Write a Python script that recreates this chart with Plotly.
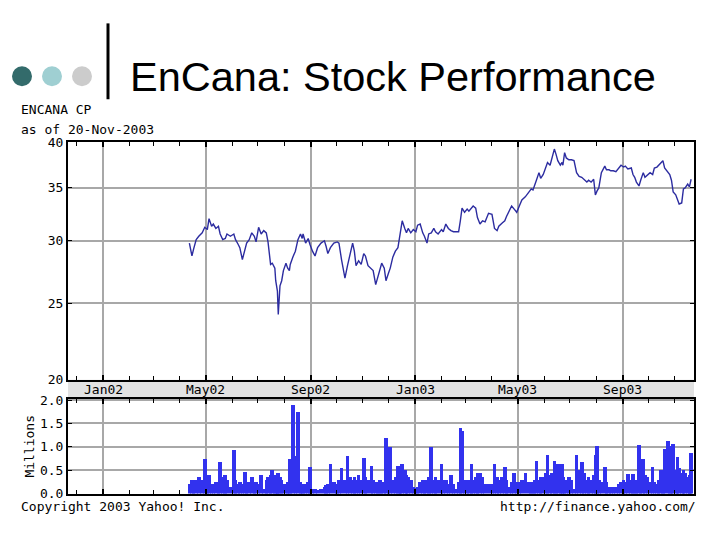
import plotly.graph_objects as go
import math

# ---------------- data ----------------
trade_dates = [
    "2002-04-12", "2002-04-15", "2002-04-17", "2002-04-20", "2002-04-23", "2002-04-27", "2002-04-30",
    "2002-05-03", "2002-05-05", "2002-05-08", "2002-05-10", "2002-05-13", "2002-05-16", "2002-05-18",
    "2002-05-21", "2002-05-24", "2002-05-26", "2002-05-30", "2002-06-03", "2002-06-05", "2002-06-08",
    "2002-06-10", "2002-06-13", "2002-06-16", "2002-06-18", "2002-06-21", "2002-06-24", "2002-06-27",
    "2002-06-29", "2002-07-02", "2002-07-05", "2002-07-08", "2002-07-11", "2002-07-13", "2002-07-16",
    "2002-07-18", "2002-07-21", "2002-07-22", "2002-07-24", "2002-07-25", "2002-07-27", "2002-07-29",
    "2002-07-31", "2002-08-03", "2002-08-05", "2002-08-07", "2002-08-08", "2002-08-11", "2002-08-14",
    "2002-08-17", "2002-08-20", "2002-08-22", "2002-08-23", "2002-08-26", "2002-08-29", "2002-08-31",
    "2002-09-03", "2002-09-06", "2002-09-09", "2002-09-13", "2002-09-17", "2002-09-19", "2002-09-21",
    "2002-09-24", "2002-09-28", "2002-10-02", "2002-10-04", "2002-10-07", "2002-10-11", "2002-10-14",
    "2002-10-17", "2002-10-20", "2002-10-22", "2002-10-24", "2002-10-27", "2002-10-30", "2002-11-02",
    "2002-11-04", "2002-11-07", "2002-11-11", "2002-11-13", "2002-11-16", "2002-11-19", "2002-11-21",
    "2002-11-23", "2002-11-26", "2002-11-28", "2002-12-01", "2002-12-03", "2002-12-06", "2002-12-09",
    "2002-12-12", "2002-12-13", "2002-12-15", "2002-12-17", "2002-12-20", "2002-12-22", "2002-12-24",
    "2002-12-27", "2002-12-30", "2003-01-02", "2003-01-04", "2003-01-07", "2003-01-10", "2003-01-12",
    "2003-01-15", "2003-01-17", "2003-01-20", "2003-01-23", "2003-01-25", "2003-01-28", "2003-02-01",
    "2003-02-03", "2003-02-06", "2003-02-09", "2003-02-12", "2003-02-15", "2003-02-18", "2003-02-21",
    "2003-02-23", "2003-02-25", "2003-02-28", "2003-03-03", "2003-03-05", "2003-03-08", "2003-03-10",
    "2003-03-13", "2003-03-15", "2003-03-18", "2003-03-21", "2003-03-24", "2003-03-28", "2003-04-01",
    "2003-04-04", "2003-04-07", "2003-04-09", "2003-04-13", "2003-04-16", "2003-04-18", "2003-04-21",
    "2003-04-24", "2003-04-27", "2003-04-30", "2003-05-03", "2003-05-06", "2003-05-10", "2003-05-14",
    "2003-05-17", "2003-05-19", "2003-05-21", "2003-05-23", "2003-05-26", "2003-05-28", "2003-05-31",
    "2003-06-03", "2003-06-05", "2003-06-08", "2003-06-10", "2003-06-13", "2003-06-15", "2003-06-17",
    "2003-06-20", "2003-06-22", "2003-06-23", "2003-06-25", "2003-06-27", "2003-06-30", "2003-07-03",
    "2003-07-06", "2003-07-09", "2003-07-12", "2003-07-15", "2003-07-18", "2003-07-21", "2003-07-23",
    "2003-07-26", "2003-07-29", "2003-07-31", "2003-08-02", "2003-08-04", "2003-08-07", "2003-08-11",
    "2003-08-13", "2003-08-16", "2003-08-18", "2003-08-21", "2003-08-24", "2003-08-27", "2003-08-30",
    "2003-09-02", "2003-09-04", "2003-09-07", "2003-09-11", "2003-09-13", "2003-09-15", "2003-09-17",
    "2003-09-20", "2003-09-22", "2003-09-25", "2003-09-27", "2003-09-30", "2003-10-03", "2003-10-06",
    "2003-10-08", "2003-10-11", "2003-10-13", "2003-10-16", "2003-10-18", "2003-10-20", "2003-10-24",
    "2003-10-26", "2003-10-28", "2003-10-30", "2003-11-02", "2003-11-04", "2003-11-06", "2003-11-09",
    "2003-11-11", "2003-11-13", "2003-11-16", "2003-11-18", "2003-11-19", "2003-11-20",
]

close_price = [
    29.8, 28.7, 29.3, 30.1, 30.4, 30.7, 31.2,
    31.0, 32.0, 31.3, 31.5, 31.1, 31.3, 30.6,
    30.1, 30.2, 30.6, 30.4, 30.6, 30.1, 29.7,
    29.4, 28.4, 29.3, 29.8, 30.1, 30.7, 30.4,
    29.9, 31.2, 30.6, 30.9, 30.7, 29.9, 28.0,
    28.1, 27.7, 26.7, 25.9, 24.2, 26.3, 26.7,
    27.5, 28.1, 27.7, 27.5, 28.0, 28.6, 29.1,
    30.1, 30.6, 30.2, 30.6, 29.8, 30.2, 29.7,
    29.1, 28.7, 29.4, 29.8, 30.0, 29.5, 28.9,
    29.4, 29.8, 29.9, 29.8, 28.4, 26.9, 27.9,
    28.9, 29.8, 29.1, 27.9, 28.3, 28.0, 28.9,
    28.7, 27.9, 27.6, 27.5, 26.4, 27.1, 27.7,
    28.1, 27.7, 26.7, 27.3, 27.7, 28.6, 29.1,
    29.4, 29.9, 31.1, 31.8, 31.1, 30.7, 31.1,
    30.7, 31.0, 30.8, 31.4, 31.5, 30.7, 30.4,
    29.8, 30.6, 30.7, 31.1, 30.8, 30.6, 31.0,
    30.8, 31.5, 31.1, 30.9, 30.8, 30.8, 30.8,
    31.8, 33.0, 32.6, 32.9, 32.7, 33.0, 33.2,
    33.0, 32.1, 31.5, 31.8, 31.7, 32.5, 32.4,
    31.1, 30.9, 31.3, 31.6, 31.8, 32.2, 32.7,
    33.2, 32.9, 32.6, 33.2, 33.8, 34.1, 34.5,
    34.9, 34.8, 35.4, 35.8, 36.6, 36.0, 36.4,
    37.1, 37.7, 37.4, 38.2, 39.2, 38.6, 37.9,
    37.4, 37.7, 37.4, 38.8, 38.2, 38.0, 38.0,
    37.9, 36.6, 36.2, 36.1, 35.8, 35.6, 35.8,
    35.6, 35.9, 34.3, 34.7, 35.0, 36.6, 37.3,
    36.9, 36.9, 36.8, 36.8, 36.7, 37.1, 37.4,
    37.2, 37.3, 37.0, 37.1, 36.4, 36.1, 35.6,
    35.2, 35.8, 36.6, 36.1, 36.4, 36.6, 36.4,
    37.1, 37.2, 37.4, 37.7, 37.9, 37.1, 36.6,
    36.4, 35.8, 34.6, 34.3, 33.8, 33.4, 33.5,
    34.9, 35.0, 35.4, 35.1, 35.7, 35.9,
]

volume_millions = [
    0.20, 0.30, 0.25, 0.30, 0.35, 0.30, 0.75,
    0.30, 0.40, 0.20, 0.20, 0.25, 0.20, 0.68,
    0.35, 0.40, 0.30, 0.15, 0.93, 0.30, 0.20,
    0.25, 0.20, 0.46, 0.20, 0.25, 0.35, 0.20,
    0.25, 0.20, 0.40, 0.10, 0.30, 0.35, 0.40,
    0.50, 0.35, 0.40, 0.45, 0.45, 0.35, 0.30,
    0.20, 0.20, 0.25, 0.40, 0.75, 1.90, 0.80,
    1.76, 0.25, 0.20, 0.20, 0.20, 0.25, 0.57,
    0.10, 0.10, 0.08, 0.10, 0.15, 0.18, 0.20,
    0.64, 0.25, 0.20, 0.30, 0.55, 0.30, 0.82,
    0.35, 0.30, 0.35, 0.30, 0.40, 0.30, 0.76,
    0.35, 0.30, 0.60, 0.30, 0.25, 0.20, 0.30,
    0.25, 0.25, 1.19, 0.20, 1.00, 0.30, 0.35,
    0.59, 0.40, 0.45, 0.64, 0.50, 0.40, 0.35,
    0.30, 0.15, 0.12, 0.15, 0.25, 0.30, 0.25,
    0.30, 0.35, 1.00, 0.30, 0.35, 0.30, 0.64,
    0.30, 0.30, 0.20, 0.40, 0.20, 0.10, 0.25,
    1.40, 1.35, 0.30, 0.30, 0.30, 0.64, 0.30,
    0.35, 0.45, 0.45, 0.35, 0.20, 0.20, 0.20,
    0.63, 0.35, 0.30, 0.35, 0.57, 0.30, 0.15,
    0.25, 0.45, 0.25, 0.25, 0.30, 0.45, 0.25,
    0.25, 0.20, 0.30, 0.71, 0.30, 0.35, 0.35,
    0.45, 0.83, 0.40, 0.45, 0.70, 0.40, 0.64,
    0.45, 0.64, 0.35, 0.30, 0.30, 0.35, 0.30,
    0.10, 0.83, 0.50, 0.68, 0.45, 0.30, 0.35,
    0.30, 0.40, 0.83, 1.03, 0.30, 0.25, 0.57,
    0.25, 0.15, 0.15, 0.15, 0.15, 0.20, 0.25,
    0.30, 0.25, 0.43, 0.30, 0.43, 0.25, 0.30,
    1.05, 0.40, 0.75, 0.40, 0.35, 0.25, 0.57,
    0.25, 0.20, 0.30, 0.50, 0.35, 0.96, 1.14,
    1.03, 0.78, 1.07, 0.50, 0.78, 0.55, 0.45,
    0.50, 0.45, 0.35, 0.40, 0.35, 0.88,
]

price_ticks = [20, 25, 30, 35, 40]
price_tick_labels = ["20", "25", "30", "35", "40"]
volume_ticks = [0.0, 0.5, 1.0, 1.5, 2.0]
volume_tick_labels = ["0.0", "0.5", "1.0", "1.5", "2.0"]
month_ticks = ["2002-01-01", "2002-05-01", "2002-09-01", "2003-01-01", "2003-05-01", "2003-09-01"]
month_tick_labels = ["Jan02", "May02", "Sep02", "Jan03", "May03", "Sep03"]
date_range = ["2001-11-21", "2003-11-23 09:00"]

# ---------------- layout helpers ----------------
W, H = 720, 540
X_SHIFT = 8          # horizontal offset of the page
Y_SCALE, Y_SHIFT = 0.974, 13.6   # observed vertical mapping of the page


def px(x):
    return (x - X_SHIFT) / W


def py(y):
    return 1 - ((y - Y_SHIFT) / Y_SCALE) / H


MONO = "DejaVu Sans Mono"
GRID = "#a8a8a8"

fig = go.Figure()
fig.add_trace(go.Scatter(
    x=trade_dates, y=close_price, mode="lines",
    line=dict(color="#2c2ca0", width=1.4),
    xaxis="x", yaxis="y", showlegend=False, hoverinfo="x+y",
))
fig.add_trace(go.Bar(
    x=trade_dates, y=volume_millions,
    marker=dict(color="#3232ee", line=dict(width=0)),
    width=4.2 * 86400000,
    xaxis="x2", yaxis="y2", showlegend=False,
))

x_common = dict(
    type="date", range=date_range, tickvals=month_ticks,
    showgrid=True, gridcolor=GRID, gridwidth=2,
    showline=True, linecolor="black", linewidth=2, mirror="allticks",
    ticks="inside", ticklen=5, tickcolor="black", tickwidth=2,
    minor=dict(dtick="M1", ticks="inside", ticklen=4, tickcolor="black", tickwidth=1, showgrid=False),
    showticklabels=False, zeroline=False,
)
y_common = dict(
    showgrid=True, gridcolor=GRID, gridwidth=2,
    showline=True, linecolor="black", linewidth=2, mirror="allticks",
    ticks="inside", ticklen=4, tickcolor="black",
    tickfont=dict(family=MONO, size=13, color="black"),
    ticklabelstandoff=0, zeroline=False,
)

fig.update_layout(
    width=W, height=H,
    margin=dict(l=0, r=0, t=0, b=0),
    paper_bgcolor="white", plot_bgcolor="white",
    bargap=0,
    xaxis=dict(domain=[px(68), px(694)], anchor="y", **x_common),
    xaxis2=dict(domain=[px(68), px(694)], anchor="y2", matches="x", side="top", **x_common),
    yaxis=dict(domain=[py(379), py(141)], anchor="x", type="log",
               range=[math.log10(20), math.log10(40)],
               tickvals=price_ticks, ticktext=price_tick_labels, **y_common),
    yaxis2=dict(domain=[py(493), py(398)], anchor="x2", range=[0, 2.03],
                tickvals=volume_ticks, ticktext=volume_tick_labels, **y_common),
)

# gray date band between the two panels
fig.add_shape(type="rect", xref="paper", yref="paper",
              x0=px(68), x1=px(694), y0=py(398), y1=py(379),
              fillcolor="#e2e2e2", line=dict(width=0), layer="below")

# month labels centred in the gray band, at the gridline dates
for tv, tt in zip(month_ticks, month_tick_labels):
    fig.add_annotation(text=tt, xref="x", yref="paper", x=tv, y=py(389),
                       xanchor="center", yanchor="middle", showarrow=False,
                       font=dict(family=MONO, size=13, color="black"))

# slide decoration: three dots and a vertical rule
for cx, col in [(22, "#336b6b"), (52, "#9fcfd2"), (82, "#cccccc")]:
    fig.add_shape(type="circle", xref="paper", yref="paper",
                  x0=px(cx - 10), x1=px(cx + 10), y0=py(85), y1=py(65),
                  fillcolor=col, line=dict(width=0))
fig.add_shape(type="line", xref="paper", yref="paper",
              x0=px(108), x1=px(108), y0=py(22), y1=py(98),
              line=dict(color="black", width=3))


def note(text, x, y, size, family, xanchor="left", angle=0):
    fig.add_annotation(text=text, xref="paper", yref="paper", x=px(x), y=py(y),
                       xanchor=xanchor, yanchor="middle", showarrow=False,
                       textangle=angle,
                       font=dict(family=family, size=size, color="black"))


note("EnCana: Stock Performance", 128, 75, 41.5, "Liberation Sans")
note("ENCANA CP", 19, 108, 13, MONO)
note("as of 20-Nov-2003", 19, 128, 13, MONO)
note("Copyright 2003 Yahoo! Inc.", 19, 506, 13, MONO)
note("http://finance.yahoo.com/", 698, 506, 13, MONO, xanchor="right")
note("Millions", 30, 446, 13, MONO, xanchor="center", angle=-90)

fig.write_html("out.html")
